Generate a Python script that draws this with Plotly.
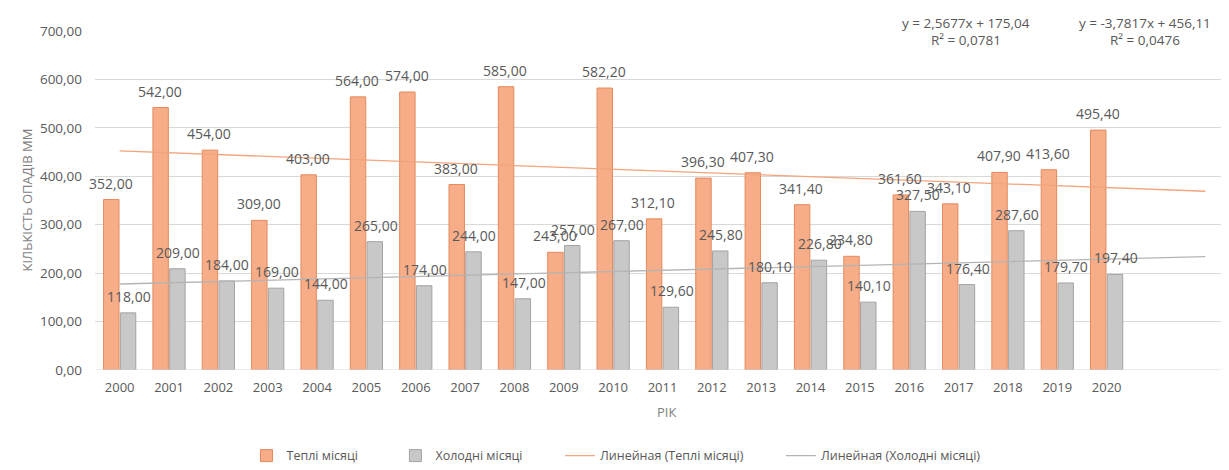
import plotly.graph_objects as go

years = list(range(2000, 2021))
warm = [352.0, 542.0, 454.0, 309.0, 403.0, 564.0, 574.0, 383.0, 585.0, 243.0, 582.2,
        312.1, 396.3, 407.3, 341.4, 234.8, 361.6, 343.1, 407.9, 413.6, 495.4]
cold = [118.0, 209.0, 184.0, 169.0, 144.0, 265.0, 174.0, 244.0, 147.0, 257.0, 267.0,
        129.6, 245.8, 180.1, 226.8, 140.1, 327.5, 176.4, 287.6, 179.7, 197.4]
yticks = [0, 100, 200, 300, 400, 500, 600, 700]
warm_fit = (-3.7817, 456.11)
cold_fit = (2.5677, 175.04)
warm_eq = ["y = -3,7817x + 456,11", "R² = 0,0476"]
cold_eq = ["y = 2,5677x + 175,04", "R² = 0,0781"]
forecast = 2

def fmt(v):
    return f"{v:.2f}".replace(".", ",")

FONT = "Open Sans"
TXT = "#595959"
W, H = 1229, 470
L, R, T, B = 87, 7, 23, 100
pw, ph = W - L - R, H - T - B
PAD = "\u00a0" * 10

fig = go.Figure()
fig.add_trace(go.Bar(x=years, y=warm, name="Теплі місяці" + PAD,
                     marker=dict(color="#F6AD88", line=dict(color="#E58A5C", width=1))))
fig.add_trace(go.Bar(x=years, y=cold, name="Холодні місяці" + PAD,
                     marker=dict(color="#C8C8C8", line=dict(color="#A3A3A3", width=1))))

tx = list(range(years[0], years[-1] + forecast + 1))
t_idx = [x - years[0] + 1 for x in tx]
fig.add_trace(go.Scatter(x=tx, y=[warm_fit[0] * t + warm_fit[1] for t in t_idx],
                         mode="lines", name="Линейная (Теплі місяці)" + PAD,
                         line=dict(color="#F2A47C", width=1.3)))
fig.add_trace(go.Scatter(x=tx, y=[cold_fit[0] * t + cold_fit[1] for t in t_idx],
                         mode="lines", name="Линейная (Холодні місяці)",
                         line=dict(color="#B4B4B4", width=1.3)))

ann = []
unit = pw / 23.0
for yr, w, c in zip(years, warm, cold):
    ann.append(dict(x=yr, y=w, xref="x", yref="y", text=fmt(w), showarrow=False,
                    xanchor="center", yanchor="middle",
                    xshift=-0.185 * unit, yshift=16.5,
                    font=dict(family=FONT, size=14, color=TXT)))
    ann.append(dict(x=yr, y=c, xref="x", yref="y", text=fmt(c), showarrow=False,
                    xanchor="center", yanchor="middle",
                    xshift=0.185 * unit, yshift=16.5,
                    font=dict(family=FONT, size=14, color=TXT)))

# trendline equations
for (lines, px) in ((cold_eq, 958), (warm_eq, 1137)):
    ann.append(dict(x=(px - L) / pw, y=(H - B - 15) / ph, xref="paper", yref="paper",
                    text=lines[0], showarrow=False, xanchor="center", yanchor="middle",
                    font=dict(family=FONT, size=13.5, color=TXT)))
    ann.append(dict(x=(px - L) / pw, y=(H - B - 32) / ph, xref="paper", yref="paper",
                    text=lines[1], showarrow=False, xanchor="center", yanchor="middle",
                    font=dict(family=FONT, size=13.5, color=TXT)))

# axis titles
ann.append(dict(x=(18 - L) / pw, y=0.5, xref="paper", yref="paper", text="КІЛЬКІСТЬ ОПАДІВ ММ",
                textangle=-90, showarrow=False, xanchor="center", yanchor="middle",
                font=dict(family=FONT, size=13, color="#7F7F7F")))
ann.append(dict(x=(658 - L) / pw, y=-(413 - (H - B)) / ph, xref="paper", yref="paper", text="РІК",
                showarrow=False, xanchor="center", yanchor="middle",
                font=dict(family=FONT, size=13, color="#7F7F7F")))

fig.update_layout(
    width=W, height=H,
    margin=dict(l=L, r=R, t=T, b=B),
    paper_bgcolor="white", plot_bgcolor="white",
    barmode="group", bargap=0.32, bargroupgap=0.08,
    showlegend=True,
    legend=dict(orientation="h", x=(608 - L) / pw, xanchor="center",
                y=-(458 - (H - B)) / ph, yanchor="middle",
                font=dict(family=FONT, size=12.5, color=TXT), itemwidth=30, tracegroupgap=0),
    annotations=ann,
    font=dict(family=FONT, color=TXT),
)
fig.update_xaxes(range=[years[0] - 0.5, years[-1] + forecast + 0.5], tickvals=years,
                 ticktext=[str(y) for y in years], showgrid=False, zeroline=False,
                 showline=False, tickfont=dict(family=FONT, size=13, color=TXT),
                 ticks="", ticklabelstandoff=8)
fig.update_yaxes(range=[0, 700], tickvals=yticks, ticktext=[fmt(v) for v in yticks],
                 showgrid=True, gridcolor="#D9D9D9", gridwidth=1, zeroline=False,
                 showline=False, tickfont=dict(family=FONT, size=13.5, color=TXT),
                 ticks="", ticklabelstandoff=12)
fig.add_shape(type="line", xref="paper", yref="y", x0=0, x1=1, y0=0, y1=0,
              line=dict(color="#D9D9D9", width=1))

fig.write_html("out.html")
